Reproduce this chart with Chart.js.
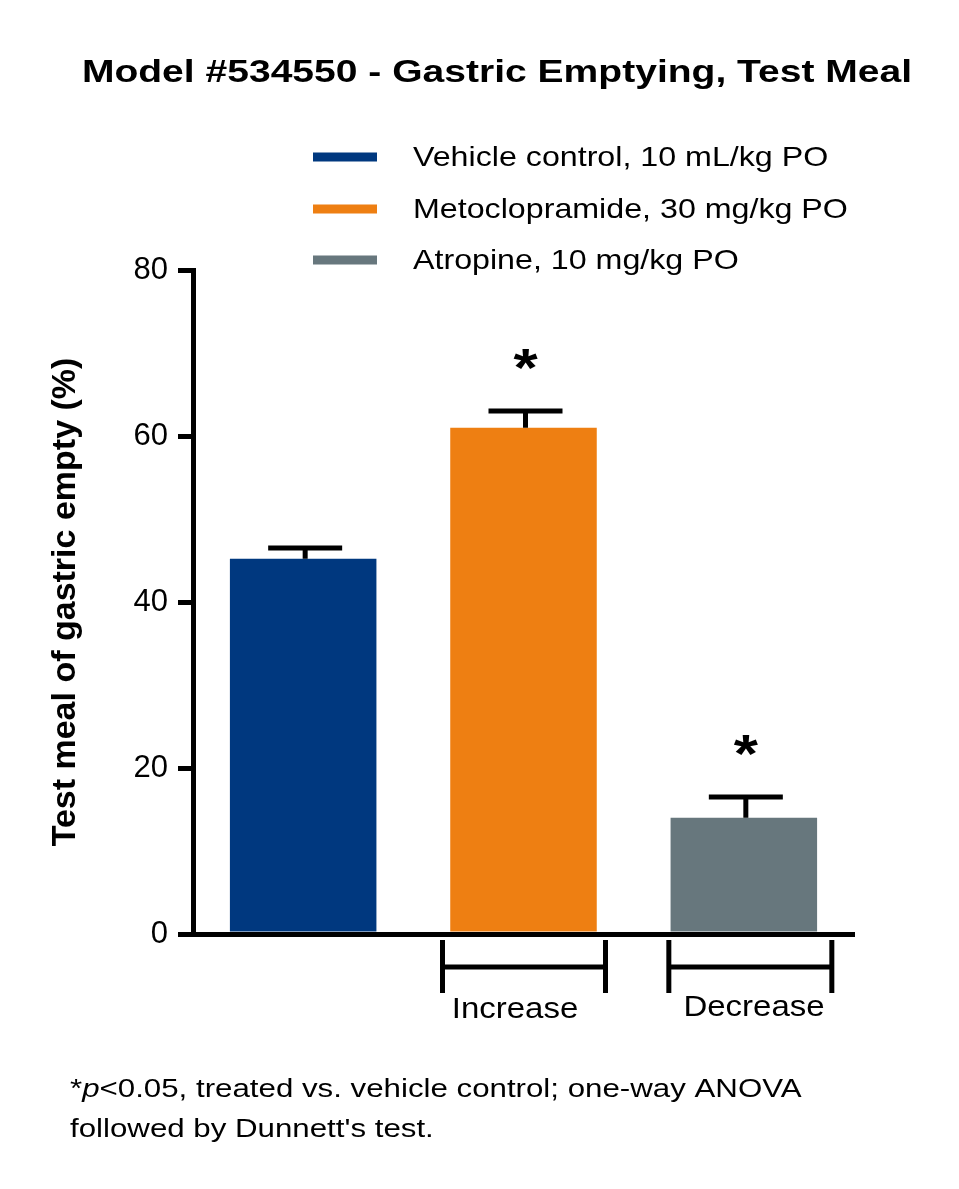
<!DOCTYPE html>
<html>
<head>
<meta charset="utf-8">
<script src="https://cdn.jsdelivr.net/npm/chart.js@4.4.1/dist/chart.umd.min.js"></script>
<style>
  html, body { margin: 0; padding: 0; background: #fff; }
  canvas { display: block; }
</style>
</head>
<body>
<canvas id="gastric" width="959" height="1189"></canvas>
<script>
// values
const groups = ['Vehicle control, 10 mL/kg PO', 'Metoclopramide, 30 mg/kg PO', 'Atropine, 10 mg/kg PO'];
const means = [45.2, 61.0, 14.0];
const sems = [1.3, 2.0, 2.5];
const significant = [false, true, true];
const barColors = ['#00387f', '#ee7f12', '#67777d'];
const yTicks = [0, 20, 40, 60, 80];
const brackets = [
    {label: 'Increase', index: 1, from: -81, to: 82, textX: 515, textY: 1018},
    {label: 'Decrease', index: 2, from: -75, to: 88, textX: 754, textY: 1016}
];
const titleText = 'Model #534550 - Gastric Emptying, Test Meal';
const yTitle = 'Test meal of gastric empty (%)';

const FONT = '"Liberation Sans", Arial, sans-serif';

// the reference text looks stretched sideways, so draw it a bit wide
function wideText(ctx, txt, x, y, font, sx, align) {
    ctx.save();
    ctx.font = font;
    ctx.textAlign = align || 'left';
    ctx.translate(x, y);
    ctx.scale(sx, 1);
    ctx.fillText(txt, 0, 0);
    ctx.restore();
}

const extras = {
    id: 'extras',
    afterDatasetsDraw(chart) {
        const ctx = chart.ctx;
        const x = chart.scales.x;
        const y = chart.scales.y;
        ctx.save();
        ctx.strokeStyle = '#000';
        ctx.fillStyle = '#000';
        ctx.lineWidth = 5;
        ctx.lineCap = 'butt';

        // error bars (upper only) and asterisks
        for (let i = 0; i < means.length; i++) {
            let cx = x.getPixelForValue(i) + 2;
            let top = y.getPixelForValue(means[i]);
            let cap = y.getPixelForValue(means[i] + sems[i]);
            ctx.beginPath();
            ctx.moveTo(cx, top);
            ctx.lineTo(cx, cap);
            ctx.moveTo(cx - 37, cap);
            ctx.lineTo(cx + 37, cap);
            ctx.stroke();
            if (significant[i]) {
                ctx.textBaseline = 'alphabetic';
                wideText(ctx, '*', cx, cap - 25, 'bold 54px ' + FONT, 1.15, 'center');
            }
        }

        // group brackets under the axis
        for (let b of brackets) {
            let cx = x.getPixelForValue(b.index);
            let x1 = cx + b.from, x2 = cx + b.to;
            ctx.beginPath();
            ctx.moveTo(x1, 940); ctx.lineTo(x1, 993);
            ctx.moveTo(x2, 940); ctx.lineTo(x2, 993);
            ctx.moveTo(x1, 967); ctx.lineTo(x2, 967);
            ctx.stroke();
            ctx.textBaseline = 'alphabetic';
            wideText(ctx, b.label, b.textX, b.textY, '30px ' + FONT, 1.1, 'center');
        }

        // title
        ctx.textBaseline = 'alphabetic';
        wideText(ctx, titleText, 497, 82, 'bold 32px ' + FONT, 1.22, 'center');

        // legend
        const rows = [157, 209, 260];
        for (let i = 0; i < groups.length; i++) {
            ctx.fillStyle = barColors[i];
            ctx.fillRect(313, rows[i] - 4.5, 64, 9);
            ctx.fillStyle = '#000';
            ctx.textBaseline = 'middle';
            wideText(ctx, groups[i], 413, rows[i] + 1, '28px ' + FONT, 1.15, 'left');
        }

        // footnote
        ctx.textBaseline = 'alphabetic';
        ctx.textAlign = 'left';
        ctx.save();
        ctx.translate(70, 1097);
        ctx.scale(1.25, 1);
        ctx.font = '25px ' + FONT;
        ctx.fillText('*', 0, 0);
        let w = ctx.measureText('*').width;
        ctx.font = 'italic 25px ' + FONT;
        ctx.fillText('p', w, 0);
        w += ctx.measureText('p').width;
        ctx.font = '25px ' + FONT;
        ctx.fillText('<0.05, treated vs. vehicle control; one-way ANOVA', w, 0);
        ctx.fillText("followed by Dunnett's test.", 0, 40);
        ctx.restore();

        ctx.restore();
    }
};

const data = {
    labels: groups,
    datasets: [{
            label: 'Test meal of gastric empty',
            data: means,
            backgroundColor: barColors,
            borderWidth: 0,
            categoryPercentage: 1,
            barPercentage: 0.665
        }]
};

const config = {
    type: 'bar',
    data: data,
    options: {
        responsive: false,
        animation: false,
        layout: {padding: {left: 0, right: 105, top: 270, bottom: 255}},
        plugins: {
            legend: {display: false},
            tooltip: {enabled: false}
        },
        scales: {
            x: {
                z: 1,
                offset: true,
                grid: {display: false},
                ticks: {display: false},
                border: {display: true, width: 5, color: '#000'},
                afterFit(scale) { scale.height = 0; }
            },
            y: {
                z: 1,
                min: 0,
                max: 80,
                afterBuildTicks(scale) { scale.ticks = yTicks.map(v => ({value: v})); },
                grid: {display: true, drawOnChartArea: false, drawTicks: true, tickLength: 15, lineWidth: 5, color: '#000'},
                border: {display: true, width: 5, color: '#000'},
                ticks: {color: '#000', padding: 10, font: {family: FONT, size: 31}},
                title: {
                    display: true,
                    text: yTitle,
                    color: '#000',
                    font: {family: FONT, size: 34, weight: 'bold'},
                    padding: {top: 45, bottom: 0}
                },
                afterFit(scale) { scale.width = 193; }
            }
        }
    },
    plugins: [extras]
};

let ctx = document.getElementById('gastric').getContext('2d');
new Chart(ctx, config);
</script>
</body>
</html>
